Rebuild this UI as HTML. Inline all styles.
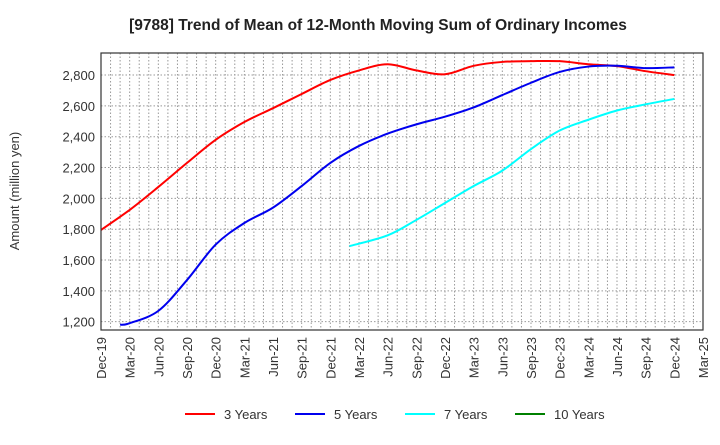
<!DOCTYPE html>
<html><head><meta charset="utf-8"><style>
body{margin:0;background:#fff;font-family:"Liberation Sans",sans-serif;}
svg text{font-family:"Liberation Sans",sans-serif;}
</style></head><body>
<svg id="c" width="720" height="440">
<text x="378" y="30" text-anchor="middle" font-size="15.5" font-weight="bold" fill="#222">[9788]  Trend of Mean of 12-Month Moving Sum of Ordinary Incomes</text>
<text transform="translate(19,191) rotate(-90)" text-anchor="middle" font-size="13" fill="#333">Amount (million yen)</text>
<g id="grid"></g><g id="series"></g><g id="axes"></g><g id="legend"></g>
</svg>
<script>
const xLabels=["Dec-19","Mar-20","Jun-20","Sep-20","Dec-20","Mar-21","Jun-21","Sep-21","Dec-21","Mar-22","Jun-22","Sep-22","Dec-22","Mar-23","Jun-23","Sep-23","Dec-23","Mar-24","Jun-24","Sep-24","Dec-24","Mar-25"];
const yTicks=[1200,1400,1600,1800,2000,2200,2400,2600,2800];
// month index from Dec-19
const m3=[0,3,6,9,12,15,18,21,24,27,30,33,36,39,42,45,48,51,54,57,60];
const s3=[1795,1925,2074,2230,2380,2495,2585,2677,2768,2830,2870,2830,2805,2860,2885,2890,2890,2870,2858,2825,2800];
const m5=[2,3,6,9,12,15,18,21,24,27,30,33,36,39,42,45,48,51,54,57,60];
const s5=[1180,1190,1270,1470,1700,1840,1940,2080,2230,2340,2420,2480,2530,2590,2670,2750,2820,2855,2860,2845,2850];
const m7=[26,30,33,36,39,42,45,48,51,54,57,60];
const s7=[1690,1760,1860,1970,2080,2180,2320,2440,2510,2570,2610,2645];
const m10=[];
const s10=[];
const L=101,R=703,T=53,B=330,yMin=1146,yMax=2943;
const NS="http://www.w3.org/2000/svg";
const XM=m=>L+m*(R-L)/63, Y=v=>B-(v-yMin)*(B-T)/(yMax-yMin);
function mk(tag,at,par){const e=document.createElementNS(NS,tag);for(const k in at)e.setAttribute(k,at[k]);par.appendChild(e);return e;}
const g=document.getElementById('grid'),ax=document.getElementById('axes'),sr=document.getElementById('series'),lg=document.getElementById('legend');
for(let m=1;m<63;m++){const x=XM(m);const l=mk('line',{x1:x,x2:x,y1:T,y2:B,stroke:'#999','stroke-dasharray':'1.5,2','stroke-width':1},g);

}
yTicks.forEach(v=>{const l=mk('line',{x1:L,x2:R,y1:Y(v),y2:Y(v),stroke:'#999','stroke-dasharray':'1.5,2'},g);


const t=mk('text',{x:L-6,y:Y(v)+5,'text-anchor':'end','font-size':13,fill:'#333'},ax);t.textContent=v.toLocaleString('en-US');

});
const fr=mk('rect',{x:L,y:T,width:R-L,height:B-T,fill:'none',stroke:'#333','stroke-width':1.2},ax);


xLabels.forEach((s,i)=>{const t=mk('text',{transform:`translate(${XM(i*3)+5},${B+7}) rotate(-90)`,'text-anchor':'end','font-size':13,fill:'#333'},ax);t.textContent=s;

});
function path(ms,arr){const p=arr.map((v,i)=>[XM(ms[i]),Y(v)]);if(p.length<2)return '';
let d=`M${p[0][0]},${p[0][1]}`;for(let i=0;i<p.length-1;i++){const p0=p[Math.max(i-1,0)],p1=p[i],p2=p[i+1],p3=p[Math.min(i+2,p.length-1)];
d+=` C${p1[0]+(p2[0]-p0[0])/6},${p1[1]+(p2[1]-p0[1])/6} ${p2[0]-(p3[0]-p1[0])/6},${p2[1]-(p3[1]-p1[1])/6} ${p2[0]},${p2[1]}`;}return d;}
const ser=[[m3,s3,'#ff0000','3 Years','series-3-years'],[m5,s5,'#0000ee','5 Years','series-5-years'],[m7,s7,'#00ffff','7 Years','series-7-years'],[m10,s10,'#008000','10 Years','series-10-years']];
ser.forEach(([m,a,c,n,id])=>{const d=path(m,a);if(d){const e=mk('path',{d:d,fill:'none',stroke:c,'stroke-width':2},sr);

}});
const lx=[185,295,405,515];
ser.forEach(([m,a,c,n],i)=>{const gg=mk('g',{},lg);


mk('line',{x1:lx[i],x2:lx[i]+30,y1:414,y2:414,stroke:c,'stroke-width':2},gg);
const t=mk('text',{x:lx[i]+39,y:419,'font-size':13,fill:'#333'},gg);t.textContent=n;});
</script>
</body></html>
